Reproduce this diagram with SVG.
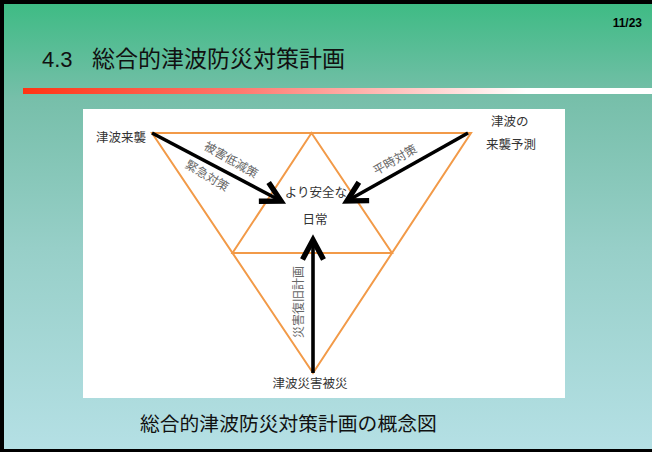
<svg xmlns="http://www.w3.org/2000/svg" width="652" height="452" viewBox="0 0 652 452">
  <defs>
    <linearGradient id="bg" x1="0" y1="0" x2="0" y2="1">
      <stop offset="0" stop-color="#3cbb83"/>
      <stop offset="0.22" stop-color="#77bfaa"/>
      <stop offset="0.55" stop-color="#97cfc8"/>
      <stop offset="1" stop-color="#b5e0e5"/>
    </linearGradient>
    <linearGradient id="rule" x1="0" y1="0" x2="1" y2="0">
      <stop offset="0" stop-color="#ff3414"/>
      <stop offset="0.35" stop-color="#ff7a70"/>
      <stop offset="0.8" stop-color="#ffffff"/>
      <stop offset="1" stop-color="#ffffff"/>
    </linearGradient>
    <marker id="head" markerUnits="userSpaceOnUse" markerWidth="30" markerHeight="30" refX="0" refY="0" viewBox="-16 -10 20 20" orient="auto">
      <path d="M-13,-7 L0,0 L-13,7" fill="none" stroke="#000" stroke-width="3.6" stroke-linejoin="miter"/>
    </marker>
    <style>
      .cjk { font-family: "Noto Sans CJK JP", "Noto Sans", sans-serif; }
      .lbl { font-family: "Noto Sans CJK JP", sans-serif; font-size: 12.5px; fill: #333; }
      .alb { font-family: "Noto Sans CJK JP", sans-serif; font-size: 12px; fill: #666; text-anchor: middle; }
      .tri { fill: none; stroke: #f29a48; stroke-width: 2; stroke-linejoin: miter; }
      .arr { stroke: #000; stroke-width: 3.6; fill: none; marker-end: url(#head); }
    </style>
  </defs>

  <!-- background and frame -->
  <rect x="0" y="0" width="652" height="452" fill="url(#bg)"/>
  <rect x="0" y="0" width="652" height="4" fill="#000"/>
  <rect x="0" y="0" width="4" height="452" fill="#000"/>
  <rect x="0" y="449" width="652" height="3" fill="#000"/>

  <!-- header -->
  <text x="642" y="27" font-family="Liberation Sans, sans-serif" font-size="12" font-weight="bold" text-anchor="end" fill="#000">11/23</text>
  <text x="42" y="67" font-family="Liberation Sans, sans-serif" font-size="22" fill="#111">4.3</text>
  <text x="92" y="67" class="cjk" font-size="23" fill="#111">総合的津波防災対策計画</text>
  <rect x="23" y="88" width="629" height="6" fill="url(#rule)"/>

  <!-- figure panel -->
  <rect id="panel" x="83" y="109" width="482" height="289" fill="#fff"/>

  <g id="triangles">
    <polygon class="tri" points="152,133 471,133 313,373"/>
    <polygon class="tri" points="311.5,133 232.5,253 392,253"/>
  </g>

  <g id="connectors">
    <line class="arr" x1="152" y1="133" x2="281" y2="201"/>
    <line class="arr" x1="468" y1="133" x2="347" y2="201"/>
    <line class="arr" x1="313" y1="373" x2="313" y2="240"/>
  </g>

  <g id="node-raishu"><text class="lbl" x="96" y="142">津波来襲</text></g>
  <g id="node-yosoku">
    <text class="lbl" x="491" y="126">津波の</text>
    <text class="lbl" x="486" y="149">来襲予測</text>
  </g>
  <g id="node-nichijo">
    <text class="lbl" x="316" y="197" text-anchor="middle">より安全な</text>
    <text class="lbl" x="315" y="224" text-anchor="middle">日常</text>
  </g>
  <g id="node-hisai"><text class="lbl" x="310" y="388" text-anchor="middle">津波災害被災</text></g>

  <g id="arrow-labels">
    <text class="alb" transform="translate(231,160) rotate(30)" y="4">被害低減策</text>
    <text class="alb" transform="translate(207,176) rotate(31)" y="4">緊急対策</text>
    <text class="alb" transform="translate(395,160) rotate(-30)" y="4">平時対策</text>
    <text class="alb" transform="translate(299,302) rotate(-90)" y="4">災害復旧計画</text>
  </g>

  <!-- caption -->
  <text x="140" y="431" class="cjk" font-size="19.8" fill="#111">総合的津波防災対策計画の概念図</text>
</svg>
